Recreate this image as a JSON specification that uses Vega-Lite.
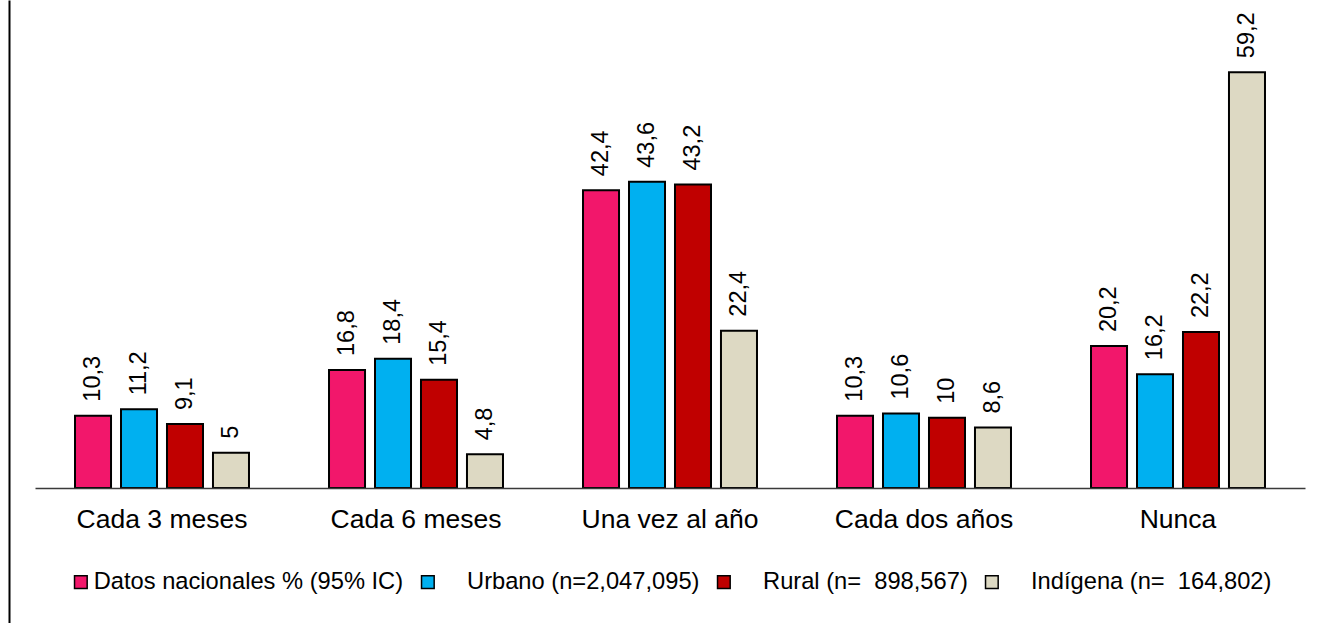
{
  "$schema": "https://vega.github.io/schema/vega-lite/v6.json",
  "width": 1270,
  "height": 623,
  "autosize": {"type": "none"},
  "padding": {"left": 35, "top": 0, "right": 27, "bottom": 0},
  "background": "white",
  "config": {
    "font": "Liberation Sans",
    "view": {"stroke": null},
    "legend": {
      "symbolStrokeColor": "black",
      "symbolStrokeWidth": 1.5,
      "layout": {"bottom": {"anchor": "middle"}}
    }
  },
  "data": {
    "values": [
      {"cat": "Cada 3 meses", "serie": "Datos nacionales % (95% IC)", "value": 10.3, "label": "10,3"},
      {"cat": "Cada 3 meses", "serie": "\u200b\u00a0\u00a0\u00a0\u00a0Urbano (n=2,047,095)", "value": 11.2, "label": "11,2"},
      {"cat": "Cada 3 meses", "serie": "\u200b\u00a0\u00a0\u00a0\u00a0Rural (n= \u00a0898,567)", "value": 9.1, "label": "9,1"},
      {"cat": "Cada 3 meses", "serie": "\u200b\u00a0\u00a0\u00a0\u00a0Indígena (n= \u00a0164,802)", "value": 5, "label": "5"},
      {"cat": "Cada 6 meses", "serie": "Datos nacionales % (95% IC)", "value": 16.8, "label": "16,8"},
      {"cat": "Cada 6 meses", "serie": "\u200b\u00a0\u00a0\u00a0\u00a0Urbano (n=2,047,095)", "value": 18.4, "label": "18,4"},
      {"cat": "Cada 6 meses", "serie": "\u200b\u00a0\u00a0\u00a0\u00a0Rural (n= \u00a0898,567)", "value": 15.4, "label": "15,4"},
      {"cat": "Cada 6 meses", "serie": "\u200b\u00a0\u00a0\u00a0\u00a0Indígena (n= \u00a0164,802)", "value": 4.8, "label": "4,8"},
      {"cat": "Una vez al año", "serie": "Datos nacionales % (95% IC)", "value": 42.4, "label": "42,4"},
      {"cat": "Una vez al año", "serie": "\u200b\u00a0\u00a0\u00a0\u00a0Urbano (n=2,047,095)", "value": 43.6, "label": "43,6"},
      {"cat": "Una vez al año", "serie": "\u200b\u00a0\u00a0\u00a0\u00a0Rural (n= \u00a0898,567)", "value": 43.2, "label": "43,2"},
      {"cat": "Una vez al año", "serie": "\u200b\u00a0\u00a0\u00a0\u00a0Indígena (n= \u00a0164,802)", "value": 22.4, "label": "22,4"},
      {"cat": "Cada dos años", "serie": "Datos nacionales % (95% IC)", "value": 10.3, "label": "10,3"},
      {"cat": "Cada dos años", "serie": "\u200b\u00a0\u00a0\u00a0\u00a0Urbano (n=2,047,095)", "value": 10.6, "label": "10,6"},
      {"cat": "Cada dos años", "serie": "\u200b\u00a0\u00a0\u00a0\u00a0Rural (n= \u00a0898,567)", "value": 10, "label": "10"},
      {"cat": "Cada dos años", "serie": "\u200b\u00a0\u00a0\u00a0\u00a0Indígena (n= \u00a0164,802)", "value": 8.6, "label": "8,6"},
      {"cat": "Nunca", "serie": "Datos nacionales % (95% IC)", "value": 20.2, "label": "20,2"},
      {"cat": "Nunca", "serie": "\u200b\u00a0\u00a0\u00a0\u00a0Urbano (n=2,047,095)", "value": 16.2, "label": "16,2"},
      {"cat": "Nunca", "serie": "\u200b\u00a0\u00a0\u00a0\u00a0Rural (n= \u00a0898,567)", "value": 22.2, "label": "22,2"},
      {"cat": "Nunca", "serie": "\u200b\u00a0\u00a0\u00a0\u00a0Indígena (n= \u00a0164,802)", "value": 59.2, "label": "59,2"}
    ]
  },
  "encoding": {
    "x": {
      "field": "cat",
      "type": "nominal",
      "sort": ["Cada 3 meses", "Cada 6 meses", "Una vez al año", "Cada dos años", "Nunca"],
      "scale": {"paddingInner": 0, "paddingOuter": 0},
      "axis": {
        "title": null,
        "orient": "bottom",
        "offset": -135,
        "labelAngle": 0,
        "labelFontSize": 26.5,
        "labelColor": "black",
        "labelPadding": 18,
        "ticks": false,
        "domainColor": "#3a3a3a",
        "domainWidth": 1.5,
        "grid": false,
        "zindex": 1
      }
    },
    "xOffset": {
      "field": "serie",
      "type": "nominal",
      "sort": ["Datos nacionales % (95% IC)", "\u200b\u00a0\u00a0\u00a0\u00a0Urbano (n=2,047,095)", "\u200b\u00a0\u00a0\u00a0\u00a0Rural (n= \u00a0898,567)", "\u200b\u00a0\u00a0\u00a0\u00a0Indígena (n= \u00a0164,802)"],
      "scale": {"paddingInner": 0.217, "paddingOuter": 0.87}
    },
    "y": {
      "field": "value",
      "type": "quantitative",
      "scale": {"domain": [-19.22, 69.47], "nice": false, "zero": false},
      "axis": {
        "title": null,
        "labels": false,
        "ticks": false,
        "grid": false,
        "offset": 26,
        "domainColor": "black",
        "domainWidth": 2
      }
    }
  },
  "layer": [
    {
      "mark": {"type": "bar", "stroke": "black", "strokeWidth": 2},
      "encoding": {
        "y2": {"datum": 0},
        "color": {
          "field": "serie",
          "type": "nominal",
          "scale": {
            "domain": ["Datos nacionales % (95% IC)", "\u200b\u00a0\u00a0\u00a0\u00a0Urbano (n=2,047,095)", "\u200b\u00a0\u00a0\u00a0\u00a0Rural (n= \u00a0898,567)", "\u200b\u00a0\u00a0\u00a0\u00a0Indígena (n= \u00a0164,802)"],
            "range": ["#F2176B", "#00B0F0", "#C00000", "#DDD9C3"]
          },
          "legend": {
            "title": null,
            "orient": "bottom",
            "direction": "horizontal",
            "offset": -53,
            "symbolType": "square",
            "symbolSize": 160,
            "labelFontSize": 23.7,
            "labelColor": "black",
            "labelOffset": 1,
            "columnPadding": 12,
            "labelLimit": 500
          }
        }
      }
    },
    {
      "mark": {"type": "text", "angle": 270, "align": "left", "baseline": "middle", "dx": 14, "fontSize": 23.5, "color": "black"},
      "encoding": {
        "text": {"field": "label", "type": "nominal"}
      }
    }
  ]
}
